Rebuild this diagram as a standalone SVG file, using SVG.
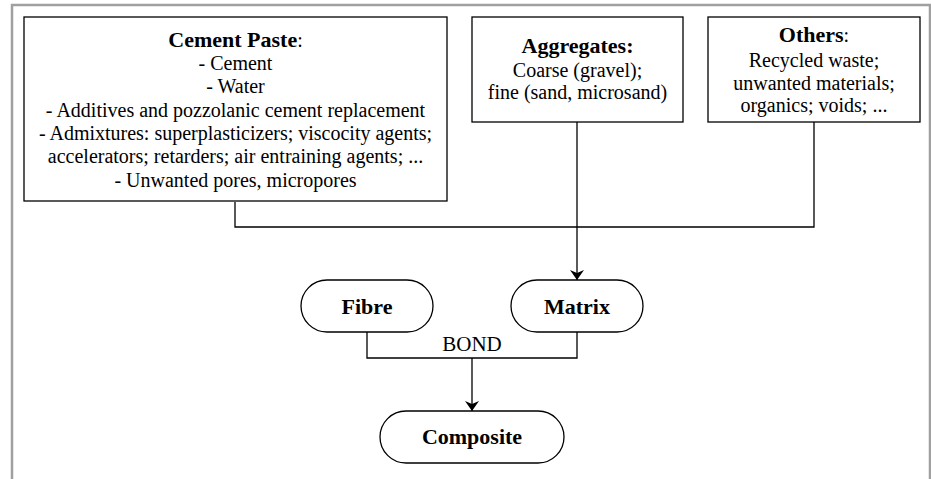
<svg xmlns="http://www.w3.org/2000/svg" width="931" height="479" viewBox="0 0 931 479">
<style>
.box{fill:#fff;stroke:#000;stroke-width:1.3}
.c{fill:none;stroke:#000;stroke-width:1.3}
</style>
<defs>
<marker id="ah" viewBox="0 0 10 20" refX="10" refY="10" markerWidth="10" markerHeight="20" markerUnits="userSpaceOnUse" orient="auto">
<path d="M0,3 L10,10 L0,17 L3,10 Z" fill="#000"/>
</marker>
</defs>
<rect x="0" y="0" width="931" height="479" fill="#fff"/>
<path d="M12,479 V5 H930 V479" fill="none" stroke="#a0a0a0" stroke-width="2.5"/>
<g id="connectors">
<path class="c" d="M235,202 V227 H814 V122"/>
<path class="c" d="M577,122 V280" marker-end="url(#ah)"/>
<path class="c" d="M367,332 V358 H577 V332"/>
<path class="c" d="M472,358 V411" marker-end="url(#ah)"/>
<text x="472" y="351" font-family="'Liberation Serif', serif" font-size="21" text-anchor="middle">BOND</text>
</g>
<g id="cement">
<rect class="box" x="24" y="17" width="423" height="184"/>
<text x="235.5" y="47" font-family="'Liberation Serif', serif" font-size="20" text-anchor="middle"><tspan font-weight="bold" font-size="22">Cement Paste</tspan>:</text>
<text x="235.5" y="70" font-family="'Liberation Serif', serif" font-size="20" text-anchor="middle">- Cement</text>
<text x="235.5" y="93" font-family="'Liberation Serif', serif" font-size="20" text-anchor="middle">- Water</text>
<text x="235.5" y="117" font-family="'Liberation Serif', serif" font-size="20" text-anchor="middle">- Additives and pozzolanic cement replacement</text>
<text x="235.5" y="140" font-family="'Liberation Serif', serif" font-size="20" text-anchor="middle">- Admixtures: superplasticizers; viscocity agents;</text>
<text x="235.5" y="163" font-family="'Liberation Serif', serif" font-size="20" text-anchor="middle">accelerators; retarders; air entraining agents; ...</text>
<text x="235.5" y="187" font-family="'Liberation Serif', serif" font-size="20" text-anchor="middle">- Unwanted pores, micropores</text>
</g>
<g id="aggregates">
<rect class="box" x="472" y="17" width="211" height="105"/>
<text x="577.5" y="53" font-family="'Liberation Serif', serif" font-size="22" font-weight="bold" text-anchor="middle">Aggregates:</text>
<text x="577.5" y="77" font-family="'Liberation Serif', serif" font-size="20" text-anchor="middle">Coarse (gravel);</text>
<text x="577.5" y="99" font-family="'Liberation Serif', serif" font-size="20" text-anchor="middle">fine (sand, microsand)</text>
</g>
<g id="others">
<rect class="box" x="708" y="17" width="212" height="105"/>
<text x="814" y="42" font-family="'Liberation Serif', serif" font-size="20" text-anchor="middle"><tspan font-weight="bold" font-size="22">Others</tspan>:</text>
<text x="814" y="67" font-family="'Liberation Serif', serif" font-size="20" text-anchor="middle">Recycled waste;</text>
<text x="814" y="90" font-family="'Liberation Serif', serif" font-size="20" text-anchor="middle">unwanted materials;</text>
<text x="814" y="112" font-family="'Liberation Serif', serif" font-size="20" text-anchor="middle">organics; voids; ...</text>
</g>
<g id="fibre">
<rect class="box" x="301" y="280" width="132" height="52" rx="26"/>
<text x="367" y="314" font-family="'Liberation Serif', serif" font-size="22" font-weight="bold" text-anchor="middle">Fibre</text>
</g>
<g id="matrix">
<rect class="box" x="511" y="280" width="132" height="52" rx="26"/>
<text x="577" y="314" font-family="'Liberation Serif', serif" font-size="22" font-weight="bold" text-anchor="middle">Matrix</text>
</g>
<g id="composite">
<rect class="box" x="380" y="411" width="184" height="52" rx="26"/>
<text x="472" y="444" font-family="'Liberation Serif', serif" font-size="22" font-weight="bold" text-anchor="middle">Composite</text>
</g>
</svg>
